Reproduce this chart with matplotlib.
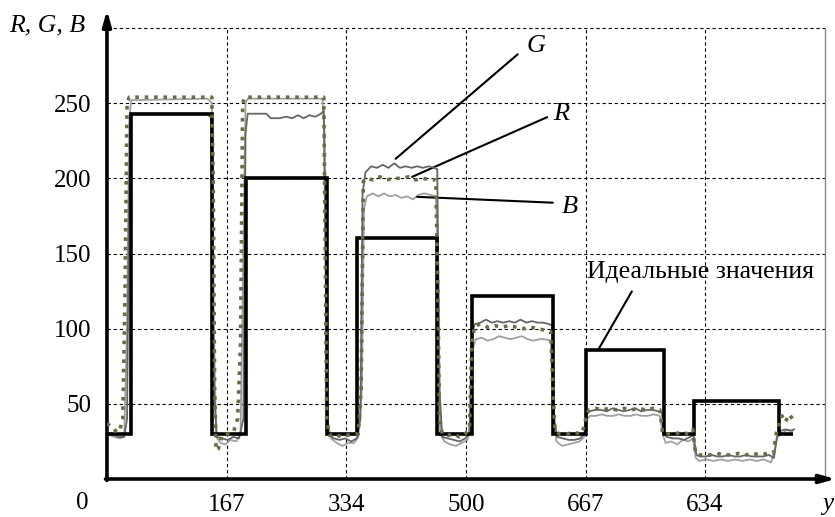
import matplotlib
matplotlib.use("Agg")
import matplotlib.pyplot as plt

plt.rcParams["font.family"] = ["Liberation Serif", "DejaVu Serif"]

# ideal (reference) step signal
ideal_edges = [0, 33, 146, 193, 306, 348, 460, 508, 621, 667, 776, 818, 936, 955]
ideal_levels = [30, 243, 30, 200, 30, 160, 30, 122, 30, 86, 30, 52, 30]

# measured G (dark gray)
g_x = [0, 8, 16, 24, 28, 31, 34, 60, 90, 120, 140, 145, 149, 153, 160, 168, 176, 184,
       190, 193, 196, 210, 222, 228, 240, 250, 258, 266, 274, 282, 290, 298, 302, 305,
       308, 316, 324, 332, 340, 348, 353, 356, 360, 368, 376, 384, 392, 400, 408, 416,
       424, 432, 440, 448, 456, 460, 463, 467, 475, 483, 491, 499, 505, 508, 512, 520,
       528, 536, 544, 552, 560, 568, 576, 584, 592, 600, 608, 616, 620, 623, 627, 635,
       643, 651, 659, 665, 668, 672, 680, 688, 696, 704, 712, 720, 728, 736, 744, 752,
       760, 768, 773, 776, 780, 788, 796, 804, 812, 817, 821, 826, 834, 842, 850, 858,
       866, 874, 882, 890, 898, 906, 914, 922, 929, 933, 938, 945, 952, 957]
g_y = [31, 30, 28, 28, 40, 200, 243, 243, 243, 243, 243, 240, 60, 28, 27, 26, 28, 27,
       40, 230, 243, 243, 243, 240, 240, 241, 240, 242, 240, 242, 241, 243, 245, 120,
       30, 27, 26, 27, 25, 27, 40, 190, 204, 208, 207, 209, 207, 210, 207, 208,
       207, 208, 207, 208, 207, 206, 60, 28, 27, 26, 25, 27, 30, 95, 103, 104,
       106, 104, 105, 104, 105, 104, 106, 104, 105, 104, 104, 103, 102, 40, 28, 27,
       26, 26, 27, 30, 43, 45, 46, 46, 45, 47, 46, 45, 46, 47, 45, 46,
       46, 45, 44, 30, 28, 27, 27, 26, 28, 29, 16, 15, 15, 16, 15, 15,
       16, 15, 15, 16, 15, 15, 15, 16, 14, 28, 32, 33, 32, 33]

# measured R (dotted olive)
r_x = [0, 8, 14, 18, 22, 25, 28, 31, 80, 146, 148, 150, 152, 155, 160, 168, 176, 182,
       186, 189, 192, 250, 302, 304, 306, 310, 318, 326, 334, 342, 350, 354, 357, 362,
       370, 380, 390, 400, 410, 420, 430, 440, 450, 458, 461, 463, 467, 475, 483, 491,
       499, 505, 508, 512, 520, 530, 540, 550, 560, 570, 580, 590, 600, 610, 618, 621,
       624, 630, 640, 650, 660, 665, 668, 672, 680, 690, 700, 710, 720, 730, 740, 750,
       760, 770, 774, 780, 790, 800, 810, 816, 819, 822, 830, 840, 850, 860, 870, 880,
       890, 900, 910, 920, 928, 932, 936, 940, 945, 950, 955]
r_y = [37, 34, 31, 33, 40, 120, 250, 254, 254, 254, 200, 60, 19, 20, 29, 30, 31, 40,
       90, 250, 254, 254, 254, 150, 40, 29, 30, 28, 29, 30, 30, 60, 198, 200,
       199, 201, 199, 200, 200, 201, 199, 200, 199, 199, 120, 40, 30, 29, 30, 28,
       30, 34, 90, 102, 103, 101, 102, 101, 102, 101, 100, 101, 100, 99, 98, 60,
       32, 30, 30, 31, 30, 35, 44, 46, 47, 46, 47, 46, 47, 46, 47, 46,
       47, 46, 30, 30, 30, 31, 30, 33, 20, 16, 16, 16, 17, 16, 16, 17,
       16, 17, 16, 17, 17, 30, 36, 42, 38, 43, 40]

# measured B (light gray)
b_x = [0, 10, 18, 24, 28, 31, 34, 140, 146, 149, 152, 158, 165, 172, 180, 186, 190, 193,
       196, 300, 303, 307, 312, 320, 328, 336, 344, 350, 355, 358, 362, 370, 378, 386,
       394, 402, 410, 418, 426, 434, 442, 450, 458, 461, 464, 470, 478, 486, 494, 502,
       507, 510, 514, 522, 530, 538, 546, 554, 562, 570, 578, 586, 594, 602, 610, 618,
       622, 626, 634, 642, 650, 658, 665, 669, 673, 681, 689, 697, 705, 713, 721, 729,
       737, 745, 753, 761, 770, 774, 778, 786, 794, 802, 810, 816, 820, 825, 835, 845,
       855, 865, 875, 885, 895, 905, 915, 925, 930, 934, 940, 948, 955]
b_y = [30, 28, 27, 28, 100, 240, 252, 253, 250, 100, 28, 24, 23, 26, 25, 30, 150, 250,
       253, 253, 230, 40, 27, 24, 22, 24, 24, 28, 60, 180, 188, 190, 188, 190,
       188, 189, 187, 188, 186, 189, 190, 189, 188, 150, 30, 25, 23, 22, 24, 26,
       40, 88, 93, 94, 92, 93, 95, 94, 93, 94, 95, 93, 92, 93, 93, 92,
       40, 25, 22, 23, 24, 25, 28, 40, 42, 42, 43, 42, 42, 43, 42, 42,
       43, 42, 42, 43, 42, 30, 24, 25, 23, 26, 25, 27, 14, 12, 13, 12,
       13, 12, 13, 12, 13, 12, 13, 11, 20, 28, 30, 33, 32]

x_ticks = [167, 333, 500, 667, 833]
x_labels = ["167", "334", "500", "667", "634"]
y_ticks = [50, 100, 150, 200, 250]

fig = plt.figure(figsize=(8.35, 5.17), dpi=100)
ax = fig.add_axes([0.1281, 0.0735, 0.8599, 0.8723])
ax.set_xlim(0, 1000)
ax.set_ylim(0, 300)

grid_kw = dict(color="black", lw=0.8, ls=(0, (3, 2.5)), zorder=1)
for xv in x_ticks:
    ax.axvline(xv, **grid_kw)
for yv in y_ticks + [300]:
    ax.axhline(yv, clip_on=False, **grid_kw)

ax.plot(b_x, b_y, color="#a0a0a0", lw=1.3, zorder=3)
ax.plot(g_x, g_y, color="#666666", lw=1.3, zorder=4)
ax.stairs(ideal_levels, ideal_edges, color="black", lw=2.6, baseline=None, zorder=5)
ax.plot(r_x, r_y, color="#6b6b45", lw=2.6, ls=(0, (1, 1.6)), zorder=6)

for side in ["top", "left", "bottom"]:
    ax.spines[side].set_visible(False)
ax.spines["right"].set_color("#888888")
ax.spines["right"].set_linewidth(1.0)

ax.set_xticks(x_ticks)
ax.set_xticklabels(x_labels)
ax.set_yticks(y_ticks)
ax.tick_params(length=0, labelsize=18)
ax.tick_params(axis="y", pad=11)
ax.tick_params(axis="x", pad=11)

ax.annotate("", xy=(0, 1.04), xytext=(0, -0.003), xycoords="axes fraction",
            arrowprops=dict(arrowstyle="-|>,head_length=0.9,head_width=0.25",
                            lw=2.6, color="black", shrinkA=0, shrinkB=0))
ax.annotate("", xy=(1.015, 0), xytext=(-0.002, 0), xycoords="axes fraction",
            arrowprops=dict(arrowstyle="-|>,head_length=0.9,head_width=0.25",
                            lw=2.6, color="black", shrinkA=0, shrinkB=0))

ax.text(-0.034, -0.053, "0", transform=ax.transAxes, fontsize=18, ha="center", va="center")
ax.text(1.011, -0.055, "y", transform=ax.transAxes, fontsize=18, style="italic",
        ha="right", va="center")
ax.text(-0.136, 1.005, "R, G, B", transform=ax.transAxes, fontsize=18.5, style="italic",
        ha="left", va="center")

line_kw = dict(arrowprops=dict(arrowstyle="-", lw=1.5, color="black",
                               shrinkA=0, shrinkB=0))
ax.annotate("", xy=(402, 213), xytext=(572, 282.5), **line_kw)
ax.annotate("", xy=(425, 201), xytext=(613, 240.7), **line_kw)
ax.annotate("", xy=(432, 187.7), xytext=(621, 183.8), **line_kw)
ax.annotate("", xy=(684, 85.8), xytext=(731, 124.8), **line_kw)
ax.text(598, 288, "G", fontsize=19, style="italic", ha="center", va="center")
ax.text(633, 243, "R", fontsize=19, style="italic", ha="center", va="center")
ax.text(645, 181, "B", fontsize=19, style="italic", ha="center", va="center")
ax.text(826, 137.5, "Идеальные значения", fontsize=18.5, ha="center", va="center")

fig.savefig("out.png", dpi=100)
